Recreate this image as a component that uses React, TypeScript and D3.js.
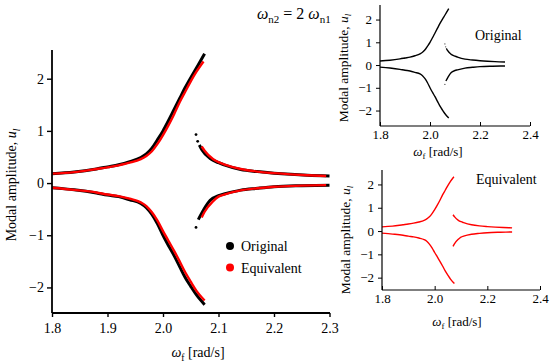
import { useEffect, useRef } from 'react';
import * as d3 from 'd3';

// Left branches (below the jump), frequency in rad/s
const freqLeft = [1.8, 1.84, 1.88, 1.9, 1.92, 1.94, 1.96, 1.97, 1.98, 1.99, 2.0, 2.01, 2.02, 2.03, 2.04, 2.05, 2.06, 2.075];
const origUpperLeft = [0.18, 0.21, 0.27, 0.31, 0.35, 0.41, 0.49, 0.56, 0.67, 0.83, 1.0, 1.2, 1.41, 1.62, 1.83, 2.02, 2.2, 2.48];
const equivUpperLeft = [0.18, 0.21, 0.27, 0.3, 0.34, 0.39, 0.46, 0.52, 0.61, 0.75, 0.92, 1.11, 1.32, 1.55, 1.75, 1.95, 2.13, 2.33];
const origLowerLeft = [-0.09, -0.13, -0.19, -0.23, -0.26, -0.32, -0.39, -0.47, -0.6, -0.78, -1.0, -1.2, -1.39, -1.6, -1.81, -1.98, -2.14, -2.33];
const equivLowerLeft = [-0.09, -0.13, -0.18, -0.22, -0.25, -0.3, -0.37, -0.44, -0.56, -0.72, -0.92, -1.11, -1.3, -1.5, -1.71, -1.89, -2.06, -2.25];

// Right branches (above the jump)
const origFreqRightUp = [2.0655, 2.07, 2.085, 2.1, 2.11, 2.14, 2.17, 2.2, 2.23, 2.26, 2.3];
const origUpperRight = [0.73, 0.64, 0.47, 0.39, 0.35, 0.26, 0.22, 0.19, 0.167, 0.15, 0.135];
const equivFreqRightUp = [2.0697, 2.075, 2.09, 2.1, 2.11, 2.14, 2.17, 2.2, 2.23, 2.26, 2.294];
const equivUpperRight = [0.7, 0.62, 0.46, 0.4, 0.36, 0.27, 0.22, 0.19, 0.167, 0.15, 0.135];
const origFreqRightLow = [2.0636, 2.0727, 2.085, 2.1, 2.11, 2.14, 2.17, 2.2, 2.25, 2.3];
const origLowerRight = [-0.7, -0.52, -0.33, -0.24, -0.21, -0.135, -0.1, -0.07, -0.05, -0.04];
const equivFreqRightLow = [2.0697, 2.075, 2.09, 2.1, 2.11, 2.14, 2.17, 2.2, 2.25, 2.294];
const equivLowerRight = [-0.66, -0.55, -0.35, -0.26, -0.22, -0.14, -0.1, -0.07, -0.05, -0.04];

// isolated points at the jump (original only)
const jumpFreq = [2.0595, 2.0625, 2.0595];
const jumpAmp = [0.93, 0.8, -0.85];

const mainXTicks = [1.8, 1.9, 2.0, 2.1, 2.2, 2.3];
const mainYTicks = [-2, -1, 0, 1, 2];
const insetXTicks = [1.8, 2.0, 2.2, 2.4];
const insetYTicks = [-2, -1, 0, 1, 2];

const FONT = '"Liberation Serif", "DejaVu Serif", serif';
const BLACK = '#000000';
const RED = '#ff0000';

type Pt = [number, number];
const zip = (xs: number[], ys: number[]): Pt[] => xs.map((x, i) => [x, ys[i]]);

const origBranches = [
  zip(freqLeft, origUpperLeft),
  zip(freqLeft, origLowerLeft),
  zip(origFreqRightUp, origUpperRight),
  zip(origFreqRightLow, origLowerRight),
];
const equivBranches = [
  zip(freqLeft.slice(0, -1).concat([2.073]), equivUpperLeft),
  zip(freqLeft, equivLowerLeft),
  zip(equivFreqRightUp, equivUpperRight),
  zip(equivFreqRightLow, equivLowerRight),
];
const jumpPoints = zip(jumpFreq, jumpAmp);

function yLabel(g: d3.Selection<SVGGElement, unknown, null, undefined>, x: number, y: number, size: number) {
  const t = g.append('text')
    .attr('transform', 'translate(' + x + ',' + y + ') rotate(-90)')
    .attr('text-anchor', 'middle')
    .attr('font-family', FONT)
    .attr('font-size', size);
  t.append('tspan').text('Modal amplitude, ');
  t.append('tspan').attr('font-style', 'italic').text('u');
  t.append('tspan').attr('font-style', 'italic').attr('font-size', size * 0.68).attr('dy', size * 0.25).text('l');
}

function xLabel(g: d3.Selection<SVGGElement, unknown, null, undefined>, x: number, y: number, size: number) {
  const t = g.append('text')
    .attr('x', x)
    .attr('y', y)
    .attr('text-anchor', 'middle')
    .attr('font-family', FONT)
    .attr('font-size', size);
  t.append('tspan').attr('font-style', 'italic').text('ω');
  t.append('tspan').attr('font-size', size * 0.68).attr('dy', size * 0.25).text('f');
  t.append('tspan').attr('dy', -size * 0.25).text(' [rad/s]');
}

export default function App() {
  const svgRef = useRef<SVGSVGElement>(null);

  useEffect(() => {
    if (!svgRef.current) return;
    const svg = d3.select(svgRef.current);
    svg.selectAll('*').remove();

    // ---------- main chart ----------
    const x = d3.scaleLinear().domain([1.8, 2.3]).range([52, 329.5]);
    const y = d3.scaleLinear().domain([-2.49, 2.55]).range([313, 50]);
    const main = svg.append('g');

    const line = d3.line<Pt>().x(d => x(d[0])).y(d => y(d[1])).curve(d3.curveMonotoneX);

    origBranches.forEach(b => {
      main.append('path').attr('d', line(b)).attr('fill', 'none').attr('stroke', BLACK).attr('stroke-width', 3);
    });
    equivBranches.forEach(b => {
      main.append('path').attr('d', line(b)).attr('fill', 'none').attr('stroke', RED).attr('stroke-width', 2.4);
    });
    main.selectAll('circle.jump')
      .data(jumpPoints)
      .join('circle')
      .attr('cx', d => x(d[0]))
      .attr('cy', d => y(d[1]))
      .attr('r', 1.4)
      .attr('fill', BLACK);

    const yAxis = main.append('g')
      .attr('transform', 'translate(52,0)')
      .call(d3.axisLeft(y).tickValues(mainYTicks).tickSize(5).tickPadding(3).tickFormat(d3.format('d')));
    const xAxis = main.append('g')
      .attr('transform', 'translate(0,313)')
      .call(d3.axisBottom(x).tickValues(mainXTicks).tickSize(4).tickPadding(6).tickFormat(d3.format('.1f')));
    [yAxis, xAxis].forEach(a => {
      a.select('.domain').attr('stroke-width', 1.8);
      a.selectAll('.tick line').attr('stroke-width', 1.4);
      a.selectAll('text').attr('font-family', FONT).attr('font-size', 14).attr('fill', BLACK);
    });
    yAxis.select('.domain').attr('d', 'M0,50V313');
    xAxis.select('.domain').attr('d', 'M52,0H330');

    yLabel(main, 16, 185, 14);
    xLabel(main, 198, 357, 14);

    // title
    const title = main.append('text').attr('x', 257).attr('y', 19).attr('font-family', FONT).attr('font-size', 16);
    title.append('tspan').attr('font-style', 'italic').text('ω');
    title.append('tspan').attr('font-size', 11).attr('dy', 4).text('n2');
    title.append('tspan').attr('dy', -4).text(' = 2 ');
    title.append('tspan').attr('font-style', 'italic').text('ω');
    title.append('tspan').attr('font-size', 11).attr('dy', 4).text('n1');

    // legend
    const legend = main.append('g').attr('font-family', FONT).attr('font-size', 14);
    [['Original', BLACK], ['Equivalent', RED]].forEach(([name, color], i) => {
      legend.append('circle').attr('cx', 230).attr('cy', 246 + i * 21.5).attr('r', 4).attr('fill', color);
      legend.append('text').attr('x', 241).attr('y', 251 + i * 21.5).text(name);
    });

    // ---------- insets ----------
    const insets = [
      {
        name: 'Original', color: BLACK, branches: origBranches, jumps: true,
        x: d3.scaleLinear().domain([1.8, 2.4]).range([380, 530]),
        y: d3.scaleLinear().domain([-2.68, 2.64]).range([126, 5]),
        labelPos: [475, 40], yLab: [348, 68], xLab: [438, 156],
      },
      {
        name: 'Equivalent', color: RED, branches: equivBranches, jumps: false,
        x: d3.scaleLinear().domain([1.8, 2.4]).range([382, 540]),
        y: d3.scaleLinear().domain([-2.53, 2.62]).range([290, 170]),
        labelPos: [476, 184], yLab: [350, 240], xLab: [457, 326],
      },
    ];

    insets.forEach(inset => {
      const g = svg.append('g');
      const ix = inset.x;
      const iy = inset.y;
      const [x0, x1] = ix.range();
      const [y0, y1] = iy.range();
      const il = d3.line<Pt>().x(d => ix(d[0])).y(d => iy(d[1])).curve(d3.curveMonotoneX);
      inset.branches.forEach(b => {
        g.append('path').attr('d', il(b)).attr('fill', 'none').attr('stroke', inset.color).attr('stroke-width', 1.4);
      });
      if (inset.jumps) {
        g.selectAll('circle.jump')
          .data(jumpPoints)
          .join('circle')
          .attr('cx', d => ix(d[0]))
          .attr('cy', d => iy(d[1]))
          .attr('r', 0.7)
          .attr('fill', '#555');
      }
      const ya = g.append('g')
        .attr('transform', 'translate(' + x0 + ',0)')
        .call(d3.axisLeft(iy).tickValues(insetYTicks).tickSize(4).tickPadding(4).tickFormat(d3.format('d')));
      const xa = g.append('g')
        .attr('transform', 'translate(0,' + y0 + ')')
        .call(d3.axisBottom(ix).tickValues(insetXTicks).tickSize(-4).tickPadding(4).tickFormat(d3.format('.1f')));
      [ya, xa].forEach(a => {
        a.select('.domain').attr('stroke-width', 1.2);
        a.selectAll('text').attr('font-family', FONT).attr('font-size', 13).attr('fill', BLACK);
      });
      ya.select('.domain').attr('d', 'M0,' + y1 + 'V' + y0);
      xa.select('.domain').attr('d', 'M' + x0 + ',0H' + x1);

      yLabel(g, inset.yLab[0], inset.yLab[1], 13.5);
      xLabel(g, inset.xLab[0], inset.xLab[1], 13);
      g.append('text')
        .attr('x', inset.labelPos[0])
        .attr('y', inset.labelPos[1])
        .attr('font-family', FONT)
        .attr('font-size', 14)
        .text(inset.name);
    });
  }, []);

  return (
    <div style={{ position: 'absolute', left: 0, top: 0 }}>
      <svg ref={svgRef} width={550} height={363} style={{ display: 'block', background: '#fff' }} />
    </div>
  );
}
